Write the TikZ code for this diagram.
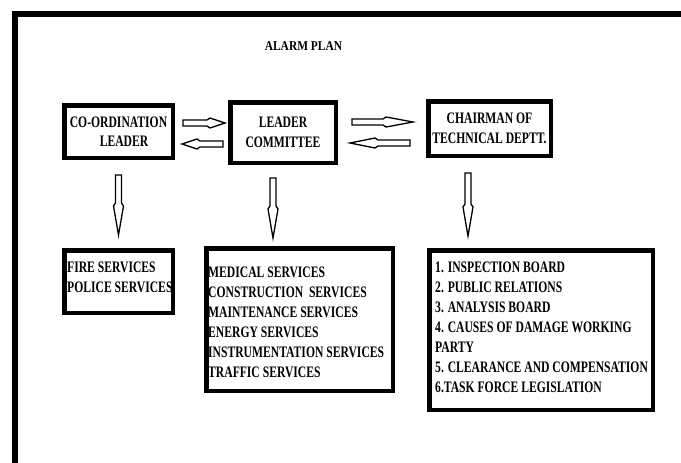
\documentclass[tikz,border=0pt]{standalone}
\usepackage{fontspec}
\usetikzlibrary{calc}
\newfontfamily\boxfont[FakeStretch=0.727]{Liberation Serif}
\newfontfamily\titlefont[FakeStretch=0.85]{Liberation Serif}
% block arrow from #2 to #3, head length #1
\newcommand\blockarr[3][18pt]{%
  \coordinate (ba-h) at ($(#3)!#1!(#2)$);
  \coordinate (ba-f) at ($(ba-h)!3pt!(#3)$);
  \draw[blockarrow] ($(#2)!3pt!90:(#3)$) -- ($(ba-h)!3pt!90:(#3)$)
    -- ($(ba-f)!5pt!90:(#3)$) -- (#3) -- ($(ba-f)!5pt!-90:(#3)$)
    -- ($(ba-h)!3pt!-90:(#3)$) -- ($(#2)!3pt!-90:(#3)$) -- cycle;
}
\begin{document}
\begin{tikzpicture}[x=1pt,y=-1pt,
  box/.style={draw=black, line width=4.5pt, fill=white, inner sep=0pt,
    align=center, font=\boxfont\bfseries\fontsize{16}{19.5}\selectfont},
  listbox/.style={draw=black, line width=4.5pt, fill=white, inner sep=0pt},
  listtext/.style={anchor=north west, inner sep=0pt, align=left,
    font=\boxfont\bfseries\fontsize{16}{20}\selectfont},
  blockarrow/.style={draw=black, line width=1.3pt, fill=white, line join=miter}]
\useasboundingbox (0,0) rectangle (681,463);
\fill[white] (0,0) rectangle (681,463);
% frame
\draw[line width=5.5pt] (15,475) -- (15,14) -- (690,14);
% title
\node[anchor=base, inner sep=0pt, font=\titlefont\bfseries\fontsize{13.5}{15}\selectfont] (title) at (303.5,50.5) {ALARM PLAN};
% top row
\node[box, minimum width=108.5pt, minimum height=52.5pt] (coord) at (118.5,131.5) {CO-ORDINATION\\\hspace*{11pt}LEADER};
\node[box, minimum width=105.5pt, minimum height=60.5pt] (leader) at (283,132.5) {LEADER\\COMMITTEE};
\node[box, minimum width=122.5pt, minimum height=54.5pt] (chair) at (489.5,128.5) {CHAIRMAN OF\\TECHNICAL DEPTT.};
% bottom row
\node[listbox, minimum width=108.5pt, minimum height=62.5pt] (fire) at (118.5,281.5) {};
\node[listbox, minimum width=186.5pt, minimum height=142.5pt] (medical) at (299.5,319.5) {};
\node[listbox, minimum width=223.5pt, minimum height=159.5pt] (list) at (541,330) {};
\node[listtext] (firetext) at (67,261.5) {FIRE SERVICES\\POLICE SERVICES};
\node[listtext] (medtext) at (208,266.5) {MEDICAL SERVICES\\CONSTRUCTION\ \ SERVICES\\MAINTENANCE SERVICES\\ENERGY SERVICES\\INSTRUMENTATION SERVICES\\TRAFFIC SERVICES};
\node[listtext] (listtext) at (435,261.5) {1. INSPECTION BOARD\\2. PUBLIC RELATIONS\\3. ANALYSIS BOARD\\4. CAUSES OF DAMAGE WORKING\\PARTY\\5. CLEARANCE AND COMPENSATION\\6.TASK FORCE LEGISLATION};
% arrow end points
\coordinate (a1s) at ($(coord.east)+(8,-8.5)$);
\coordinate (a1e) at ($(leader.west)+(-3,-9.5)$);
\coordinate (a2s) at ($(leader.west)+(-5,11.5)$);
\coordinate (a2e) at ($(coord.east)+(7,12.5)$);
\coordinate (a3s) at ($(leader.east)+(14,-10.5)$);
\coordinate (a3e) at ($(chair.west)+(-13,-6.5)$);
\coordinate (a4s) at ($(chair.west)+(-16,14.5)$);
\coordinate (a4e) at ($(leader.east)+(12,10.5)$);
\coordinate (a5s) at ($(coord.south)+(0,15)$);
\coordinate (a5e) at ($(fire.north)+(0,-13)$);
\coordinate (a6s) at ($(leader.south)+(-10,13)$);
\coordinate (a6e) at ($(medical.north)+(-26.5,-8)$);
\coordinate (a7s) at ($(chair.south)+(-21.5,15)$);
\coordinate (a7e) at ($(list.north)+(-73,-12)$);
% arrows
\blockarr[18pt]{a1s}{a1e}
\blockarr[18pt]{a2s}{a2e}
\blockarr[30pt]{a3s}{a3e}
\blockarr[28pt]{a4s}{a4e}
\blockarr[32pt]{a5s}{a5e}
\blockarr[32pt]{a6s}{a6e}
\blockarr[32pt]{a7s}{a7e}
\end{tikzpicture}
\end{document}
